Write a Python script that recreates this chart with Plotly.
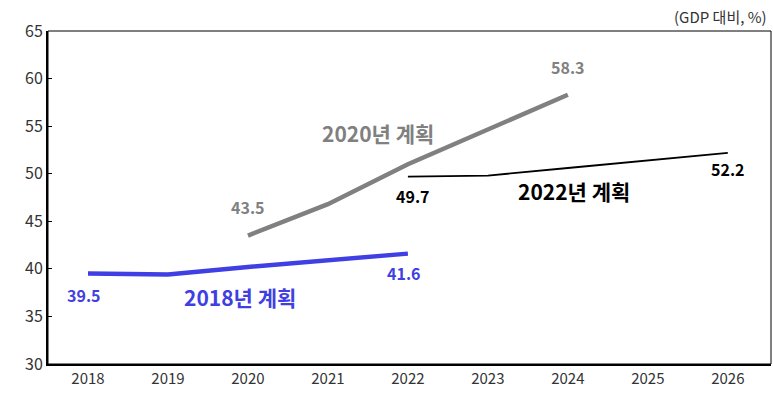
import plotly.graph_objects as go

years_2018 = [2018, 2019, 2020, 2021, 2022]
plan_2018 = [39.5, 39.4, 40.2, 40.9, 41.6]
years_2020 = [2020, 2021, 2022, 2023, 2024]
plan_2020 = [43.5, 46.8, 51.0, 54.7, 58.3]
years_2022 = [2022, 2023, 2024, 2025, 2026]
plan_2022 = [49.7, 49.8, 50.6, 51.4, 52.2]
x_ticks = list(range(2018, 2027))
y_ticks = [30, 35, 40, 45, 50, 55, 60, 65]

BLUE = "#3f3fe3"
GRAY = "#808080"
BLACK = "#000000"
FONT = "Noto Sans CJK KR"

fig = go.Figure()
fig.add_trace(go.Scatter(x=years_2018, y=plan_2018, mode="lines",
                         line=dict(color=BLUE, width=4.5), showlegend=False))
fig.add_trace(go.Scatter(x=years_2020, y=plan_2020, mode="lines",
                         line=dict(color=GRAY, width=4.5), showlegend=False))
fig.add_trace(go.Scatter(x=years_2022, y=plan_2022, mode="lines",
                         line=dict(color=BLACK, width=1.8), showlegend=False))

def lab(x, y, text, color, size=16, xshift=0, yshift=0):
    fig.add_annotation(x=x, y=y, text=text, showarrow=False, xshift=xshift, yshift=yshift,
                       font=dict(family=FONT, size=size, color=color))

# value labels
lab(years_2018[0], plan_2018[0], "<b>39.5</b>", BLUE, xshift=-4, yshift=-21)
lab(years_2018[-1], plan_2018[-1], "<b>41.6</b>", BLUE, xshift=-4, yshift=-19)
lab(years_2020[0], plan_2020[0], "<b>43.5</b>", GRAY, xshift=0, yshift=29)
lab(years_2020[-1], plan_2020[-1], "<b>58.3</b>", GRAY, xshift=0, yshift=28)
lab(years_2022[0], plan_2022[0], "<b>49.7</b>", BLACK, xshift=5, yshift=-19)
lab(years_2022[-1], plan_2022[-1], "<b>52.2</b>", BLACK, xshift=0, yshift=-16)

# series names
lab(2020.0, 37.0, "<b>2018년 계획</b>", BLUE, size=21, xshift=-8)
lab(2021.0, 54.3, "<b>2020년 계획</b>", GRAY, size=21, xshift=50)
lab(2024.0, 47.9, "<b>2022년 계획</b>", BLACK, size=21, xshift=6, yshift=3)

fig.add_annotation(x=1, y=1, xref="paper", yref="paper", xanchor="right", yanchor="bottom",
                   text="(GDP 대비, %)", showarrow=False, yshift=2, xshift=-2,
                   font=dict(family=FONT, size=15, color="#333333"))

fig.update_xaxes(range=[2017.5, 2026.54], tickvals=x_ticks, ticktext=[str(v) for v in x_ticks],
                 showgrid=False, zeroline=False, showline=True, linecolor="black", linewidth=2,
                 ticks="", tickfont=dict(family=FONT, size=15, color="#333333"))
fig.update_yaxes(range=[30, 65], tickvals=y_ticks, showgrid=False, zeroline=False,
                 showline=True, linecolor="black", linewidth=2,
                 ticks="inside", ticklen=4, tickcolor="black",
                 tickfont=dict(family=FONT, size=16, color="#333333"))

fig.add_shape(type="rect", xref="paper", yref="paper", x0=0, x1=1, y0=0, y1=1,
              line=dict(color="black", width=1))

fig.update_layout(width=773, height=397, margin=dict(l=48, r=2, t=31, b=33),
                  plot_bgcolor="white", paper_bgcolor="white",
                  font=dict(family=FONT))
fig.write_html("out.html", config={"displayModeBar": False},
               post_script="document.body.style.margin='0';document.body.style.overflow='hidden';")
